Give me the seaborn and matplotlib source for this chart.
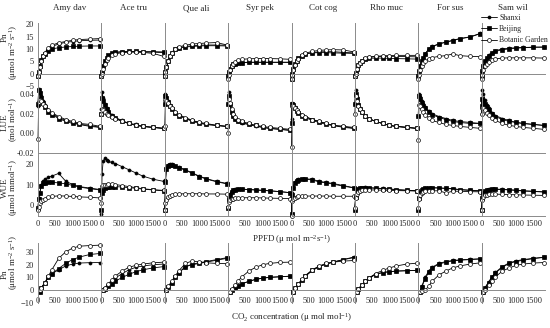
import numpy as np
import pandas as pd
import seaborn as sns
import matplotlib
matplotlib.use("Agg")
import matplotlib.pyplot as plt
from matplotlib.lines import Line2D

# species (column titles) and x values
species = ["Amy dav", "Ace tru", "Que ali", "Syr pek", "Cot cog", "Rho muc", "For sus", "Sam wil"]
sites = ["Shanxi", "Beijing", "Botanic Garden"]
ppfd = [0, 20, 50, 100, 150, 200, 300, 400, 600, 800, 1000, 1200, 1500, 1800]
co2 = [50, 100, 200, 300, 400, 600, 800, 1000, 1200, 1500, 1800]

# Row 1: Pn light response
pn_shanxi = [
    [-1, 0.5, 2.5, 5, 7, 8.3, 10, 11, 12, 12.7, 13, 13.3, 13.5, 13.6],
    [-1, 0.5, 2.5, 4.5, 6, 7, 8, 8.5, 8.8, 8.9, 8.9, 8.8, 8.7, 8.5],
    [-1, 0.5, 2.5, 5, 7, 8.3, 9.8, 10.5, 11, 11.3, 11.5, 11.6, 11.6, 11.5],
    [-1, 0.5, 2, 3, 3.7, 4, 4.3, 4.5, 4.6, 4.6, 4.6, 4.6, 4.6, 4.6],
    [-2, -0.5, 1.5, 3.5, 5, 6, 7.3, 8, 8.5, 8.8, 8.9, 8.9, 8.6, 8.4],
    [-1, 0, 2, 3.5, 4.5, 5.3, 6.2, 6.6, 6.9, 7, 7, 7, 6.9, 6.8],
    [-1, 1, 3, 5, 6.5, 8, 10, 11, 12.1, 12.8, 13.5, 14.2, 14.9, 16.3],
    [-1, 1, 3, 5, 6.5, 7.5, 8.5, 9.3, 10, 10.3, 10.5, 10.6, 10.7, 10.7],
]
pn_beijing = [
    [-1, 0.8, 3, 5.5, 7, 8, 9.3, 10, 10.5, 10.8, 11, 11.1, 11.2, 11.2],
    [-1, 0.5, 3, 5, 6.5, 7.5, 8.3, 8.7, 8.9, 9, 9, 8.9, 8.9, 8.8],
    [-1, 0.5, 2.5, 5, 7, 8.3, 9.8, 10.4, 10.8, 11, 11.2, 11.3, 11.3, 11.2],
    [-1, 0.5, 2, 3.2, 3.8, 4.1, 4.4, 4.5, 4.6, 4.6, 4.6, 4.6, 4.6, 4.6],
    [-2, 0, 2, 4, 5.2, 6.2, 7.3, 8, 8.4, 8.5, 8.5, 8.4, 8.3, 8.2],
    [-1, 0.3, 2, 3.5, 4.5, 5.2, 5.9, 6.2, 6.3, 6.3, 6.2, 6.1, 6, 5.9],
    [-1, 1, 3, 5, 6.5, 8, 9.8, 10.8, 12, 12.7, 13.4, 14.1, 14.8, 16.2],
    [-1, 1, 3, 5, 6.3, 7.3, 8.3, 9, 9.7, 10, 10.3, 10.5, 10.7, 10.8],
]
pn_botanic = [
    [-1, 0.5, 2.5, 5, 7, 8.5, 10.5, 11.5, 12.5, 13, 13.5, 13.8, 14, 14.2],
    [-1, 0, 2, 4, 5.5, 6.5, 7.5, 8, 8.5, 8.7, 8.7, 8.6, 8.2, 7],
    [-1, 0.5, 2.5, 5, 7, 8.5, 10, 10.8, 11.5, 12, 12.2, 12.4, 12.6, 11.6],
    [-2, -0.5, 1.5, 3, 4, 4.8, 5.5, 5.8, 6, 6.1, 6.1, 6.1, 6, 5.8],
    [-2, -0.5, 1.5, 3.5, 5, 6, 7.5, 8.3, 9, 9.4, 9.6, 9.7, 9.6, 8.8],
    [-1, 0, 2, 3.5, 4.5, 5.3, 6.2, 6.7, 7, 7.2, 7.3, 7.4, 7.4, 7.4],
    [-2, -0.5, 1.5, 3, 4.3, 5, 6, 6.5, 7, 7.3, 8, 7.3, 7, 6.9],
    [-2, -0.5, 1.5, 3, 4, 4.8, 5.6, 6, 6.3, 6.4, 6.4, 6.4, 6.4, 6.3],
]

# Row 2: LUE
lue_shanxi = [
    [0.028, 0.045, 0.042, 0.038, 0.033, 0.029, 0.024, 0.02, 0.016, 0.013, 0.011, 0.009, 0.008, 0.006],
    [0.025, 0.042, 0.036, 0.03, 0.026, 0.023, 0.019, 0.016, 0.013, 0.01, 0.009, 0.007, 0.006, 0.005],
    [0.03, 0.04, 0.037, 0.033, 0.029, 0.026, 0.022, 0.019, 0.015, 0.013, 0.011, 0.009, 0.008, 0.007],
    [0.03, 0.042, 0.03, 0.022, 0.018, 0.015, 0.012, 0.01, 0.009, 0.007, 0.006, 0.005, 0.004, 0.003],
    [0.015, 0.031, 0.03, 0.027, 0.024, 0.022, 0.019, 0.017, 0.014, 0.012, 0.01, 0.008, 0.007, 0.005],
    [0.03, 0.044, 0.037, 0.03, 0.026, 0.022, 0.018, 0.015, 0.012, 0.01, 0.008, 0.007, 0.006, 0.005],
    [0.018, 0.04, 0.037, 0.033, 0.03, 0.027, 0.023, 0.02, 0.017, 0.015, 0.013, 0.012, 0.011, 0.01],
    [0.02, 0.044, 0.04, 0.034, 0.029, 0.026, 0.021, 0.018, 0.015, 0.013, 0.011, 0.01, 0.009, 0.008],
]
lue_beijing = [
    [0.03, 0.044, 0.041, 0.036, 0.031, 0.027, 0.022, 0.019, 0.015, 0.012, 0.01, 0.009, 0.007, 0.006],
    [0.02, 0.036, 0.033, 0.029, 0.025, 0.022, 0.018, 0.016, 0.012, 0.01, 0.008, 0.007, 0.006, 0.005],
    [0.03, 0.038, 0.036, 0.032, 0.028, 0.025, 0.021, 0.018, 0.015, 0.012, 0.01, 0.009, 0.008, 0.007],
    [0.03, 0.038, 0.03, 0.022, 0.018, 0.015, 0.012, 0.011, 0.009, 0.008, 0.006, 0.005, 0.004, 0.003],
    [0.01, 0.03, 0.029, 0.026, 0.023, 0.021, 0.018, 0.016, 0.013, 0.011, 0.009, 0.008, 0.006, 0.005],
    [0.03, 0.04, 0.035, 0.029, 0.025, 0.022, 0.018, 0.015, 0.012, 0.01, 0.008, 0.007, 0.006, 0.005],
    [0.018, 0.038, 0.035, 0.031, 0.028, 0.026, 0.022, 0.019, 0.016, 0.014, 0.012, 0.011, 0.01, 0.01],
    [0.028, 0.035, 0.033, 0.03, 0.027, 0.024, 0.02, 0.017, 0.014, 0.012, 0.011, 0.01, 0.009, 0.008],
]
lue_botanic = [
    [-0.006, 0.032, 0.034, 0.033, 0.03, 0.028, 0.024, 0.021, 0.017, 0.014, 0.012, 0.01, 0.009, 0.007],
    [0.02, 0.025, 0.024, 0.022, 0.02, 0.019, 0.017, 0.015, 0.012, 0.01, 0.008, 0.007, 0.006, 0.005],
    [0.007, 0.034, 0.033, 0.031, 0.028, 0.026, 0.022, 0.019, 0.016, 0.013, 0.011, 0.01, 0.008, 0.007],
    [0.0, 0.035, 0.031, 0.025, 0.02, 0.017, 0.014, 0.012, 0.01, 0.008, 0.007, 0.006, 0.005, 0.004],
    [-0.014, 0.028, 0.028, 0.026, 0.024, 0.022, 0.019, 0.017, 0.014, 0.012, 0.01, 0.008, 0.007, 0.006],
    [0.02, 0.038, 0.033, 0.028, 0.025, 0.022, 0.018, 0.015, 0.012, 0.01, 0.008, 0.007, 0.006, 0.005],
    [-0.007, 0.029, 0.028, 0.025, 0.022, 0.019, 0.016, 0.013, 0.011, 0.009, 0.008, 0.007, 0.006, 0.005],
    [0.02, 0.026, 0.026, 0.024, 0.021, 0.019, 0.016, 0.013, 0.01, 0.008, 0.007, 0.006, 0.005, 0.004],
]

# Row 3: WUE
wue_shanxi = [
    [-1, 3.5, 6, 10, 11.5, 12.5, 13.5, 14, 15.3, 11.6, 10, 9, 8.3, 7.6],
    [-4, 15, 21, 22.5, 21.8, 21, 20.5, 20, 18.5, 17, 15.5, 14, 12.5, 11.5],
    [-2, 12, 18, 19.5, 19.8, 19.6, 19, 18.3, 17, 15.5, 14, 12.8, 11.5, 10.5],
    [-1, 3, 5.5, 7, 7.5, 7.7, 7.8, 7.8, 7.6, 7.4, 7.2, 7, 6.6, 6.1],
    [-4, 6, 9, 11, 12, 12.5, 12.7, 12.7, 12.5, 11.5, 11, 10.5, 9.5, 8.5],
    [-2, 4, 6.5, 7.8, 8.3, 8.5, 8.6, 8.5, 8.3, 8.1, 7.9, 7.6, 7.3, 7],
    [-2, 4, 6, 7.5, 8, 8.3, 8.5, 8.5, 8.4, 8.2, 8, 7.6, 7.3, 7],
    [-2, 4, 6, 7, 7.5, 7.7, 7.8, 7.8, 7.7, 7.5, 7.3, 7, 6.8, 6.5],
]
wue_beijing = [
    [-1, 3, 6, 9.5, 10.5, 10.8, 11, 11, 10.8, 10.3, 9.6, 8.8, 8, 7.4],
    [-2, 6, 7.5, 8.5, 8.8, 9, 9, 9, 8.8, 8.5, 8.2, 7.8, 7.4, 7],
    [-2, 11, 17.5, 19, 19.5, 19.3, 18.8, 18, 16.8, 15.3, 13.8, 12.6, 11.3, 10.3],
    [-1, 3, 5, 6.5, 7.2, 7.5, 7.7, 7.7, 7.6, 7.4, 7.2, 7, 6.6, 6.1],
    [-4, 5, 8.5, 10.5, 11.5, 12.2, 12.5, 12.5, 12.2, 11.2, 10.8, 10.2, 9.2, 8.4],
    [-2, 4, 6.5, 7.8, 8.2, 8.4, 8.5, 8.4, 8.2, 8, 7.8, 7.5, 7.2, 7],
    [-2, 3.5, 5.8, 7.3, 7.9, 8.2, 8.4, 8.4, 8.3, 8.1, 7.9, 7.5, 7.2, 6.9],
    [-2, 3.8, 5.8, 6.9, 7.4, 7.6, 7.7, 7.7, 7.6, 7.4, 7.2, 6.9, 6.7, 6.4],
]
wue_botanic = [
    [-2, -0.5, 1, 2, 2.8, 3.3, 4, 4.3, 4.6, 4.5, 4.3, 4.1, 3.9, 3.6],
    [1, 9.5, 10, 10, 10, 10.2, 10.4, 10, 9.5, 9, 8.5, 8, 7.5, 7.2],
    [-2, 1, 2.5, 4, 4.6, 5, 5.3, 5.5, 5.6, 5.6, 5.6, 5.5, 5.5, 5.4],
    [-0.5, 1.5, 2.5, 3, 3.3, 3.5, 3.7, 3.7, 3.7, 3.7, 3.6, 3.5, 3.4, 3.3],
    [-5, 2, 3, 3.8, 4.1, 4.3, 4.4, 4.5, 4.5, 4.5, 4.5, 4.4, 4.4, 4.4],
    [-1, 3.5, 5.5, 6.5, 7, 7.2, 7.3, 7.4, 7.4, 7.3, 7.2, 7.1, 7, 6.9],
    [-1, 3, 5, 6, 6.5, 6.8, 7, 7, 7, 6, 6.8, 6.8, 6.6, 6.5],
    [-2, 2.5, 4, 4.8, 5.1, 5.3, 5.4, 5.4, 5.3, 5.2, 5.1, 5, 4.9, 4.8],
]

# Row 4: Pn CO2 response
aci_shanxi = [
    [-1, 2, 6, 10, 13, 16, 19, 20.5, 21.3, 21.6, 21.7],
    [0, 1.5, 4, 7, 9.5, 13, 16, 18, 19, 20, 20.5],
    [0, 2.5, 6, 10, 13.5, 18.5, 20.5, 21.5, 22.5, 24, 25.5],
    [-1, 0, 2, 3.5, 5, 7, 8.5, 9.5, 10, 10.5, 11],
    [-1, 1.5, 5, 8, 11, 15.5, 18.5, 20.5, 22, 24, 26],
    [-1, 1, 4, 7, 9.5, 12.5, 14, 14.5, 15, 15.3, 15.5],
    [-1.5, 3, 10, 15, 18, 21, 22.5, 23.3, 23.8, 24.3, 24.6],
    [-1, 2, 6.5, 10.5, 14, 18.5, 21.5, 23, 24, 25, 25.9],
]
aci_beijing = [
    [-1, 2, 6, 10, 13, 17, 21, 24, 26, 28, 28.8],
    [0, 1, 3, 5, 7, 10, 12.5, 14.5, 16, 17.5, 18.5],
    [0, 2.5, 6, 10, 13.5, 18.5, 20, 21, 22, 23.5, 25],
    [-1, 0, 2, 3.5, 5, 7, 8.5, 9.5, 10.2, 10.6, 11],
    [-1, 1.5, 5, 8, 11, 15.5, 18.5, 20.5, 22, 24, 25.5],
    [-1, 1, 4, 7, 9.3, 12.3, 13.8, 14.5, 15, 15.3, 15.5],
    [-1.5, 2.5, 9, 14, 17.5, 20.5, 22, 23, 23.5, 24, 24.5],
    [-1, 2, 6, 10, 13.5, 18, 21, 22.5, 23.5, 24.8, 25.7],
]
aci_botanic = [
    [0, 2, 6, 11, 16, 25, 30, 33, 34.5, 35, 35.3],
    [0, 2, 5, 8, 11, 15, 18, 19.5, 20.5, 21.5, 22],
    [0, 3, 7, 11, 15, 21, 23, 22, 21.5, 21, 20.8],
    [-1, 1, 4, 7.5, 10.5, 15, 18, 20, 21, 21.8, 22],
    [-1, 1.5, 5, 8.5, 11.5, 16, 19, 21, 22, 22.8, 23.3],
    [-1, 1, 4, 7, 9.5, 13, 15.5, 17.5, 19, 20.5, 21.2],
    [-1, -0.5, 0, 3, 7, 12, 15, 17.5, 19, 20.5, 21.5],
    [-1, 0.5, 4, 7.5, 10.5, 15, 17.5, 19.5, 20.5, 21.3, 21.7],
]

rows = [
    (ppfd, [pn_shanxi, pn_beijing, pn_botanic]),
    (ppfd, [lue_shanxi, lue_beijing, lue_botanic]),
    (ppfd, [wue_shanxi, wue_beijing, wue_botanic]),
    (co2, [aci_shanxi, aci_beijing, aci_botanic]),
]

sns.set_style("white")
plt.rcParams["font.family"] = ["Liberation Serif", "DejaVu Serif"]
plt.rcParams["mathtext.fontset"] = "custom"
plt.rcParams["mathtext.rm"] = "Liberation Serif"
plt.rcParams["mathtext.default"] = "regular"

W, H = 550, 328
fig = plt.figure(figsize=(5.5, 3.28), dpi=100)

def px_axes(x0, y0, x1, y1):
    return fig.add_axes([x0 / W, 1 - y1 / H, (x1 - x0) / W, (y1 - y0) / H])

col_w = (545 - 38) / 8
row_px = [(23, 86), (86, 153), (153, 216), (243, 303)]
ylims = [(-5, 20.5), (-0.02, 0.048), (-5, 25), (-10, 37)]
yticks = [[-5, 0, 5, 10, 15, 20], [-0.02, 0.0, 0.02, 0.04], [0, 10, 20], [-10, 0, 10, 20, 30]]
styles = [
    dict(marker="o", markersize=2.2, markerfacecolor="black"),
    dict(marker="s", markersize=2.2, markerfacecolor="black"),
    dict(marker="o", markersize=2.8, markerfacecolor="white"),
]
axis_grey = "#8a8a8a"
tick_fs = 6

for r, (xs, series) in enumerate(rows):
    for c in range(8):
        ax = px_axes(38 + c * col_w, row_px[r][0], 38 + (c + 1) * col_w, row_px[r][1])
        for s, site in enumerate(sites):
            df = pd.DataFrame({"x": xs, "y": series[s][c]})
            sns.lineplot(data=df, x="x", y="y", ax=ax, color="black", linewidth=0.6,
                         markeredgecolor="black", markeredgewidth=0.5, clip_on=False,
                         **styles[s])
        ax.set_xlim(0, 1835)
        ax.set_ylim(*ylims[r])
        ax.set_xlabel("")
        ax.set_ylabel("")
        ax.set_facecolor("none")
        for side in ["top", "right"]:
            ax.spines[side].set_visible(False)
        for side in ["left", "bottom"]:
            ax.spines[side].set_color(axis_grey)
            ax.spines[side].set_linewidth(0.7)
        if r in (0, 3):
            ax.spines["bottom"].set_position(("data", 0))
        ax.set_xticks([0, 500, 1000, 1500])
        ax.set_yticks(yticks[r])
        ax.tick_params(axis="both", labelsize=tick_fs, length=1.5, width=0.5, color=axis_grey, pad=1.2)
        if r == 3:
            ax.tick_params(axis="x", pad=3.5)
        if r in (0, 1):
            ax.tick_params(axis="x", labelbottom=False, length=0)
        if r == 1:
            ax.set_yticklabels(["-0.02", "0.00", "0.02", "0.04"])
        if c > 0:
            ax.tick_params(axis="y", labelleft=False, length=0)
        if r == 0:
            fig.text((38 + (c + 0.5) * col_w) / W, 1 - 8 / H, species[c],
                     ha="center", va="center", fontsize=6.5)

# y-axis labels
ylab = [
    ("Pn", 37, "(μmol m$^{-2}$ s$^{-1}$)", 52),
    ("LUE", 122, "(mol mol$^{-1}$)", 120),
    ("WUE", 188, "(μmol mmol$^{-1}$)", 188),
    ("Pn", 274, "(μmol m$^{-2}$ s$^{-1}$)", 262),
]
for name, yn, unit, yu in ylab:
    fig.text(4.5 / W, 1 - yn / H, name, rotation=90, ha="center", va="center", fontsize=6.5)
    fig.text(13.5 / W, 1 - yu / H, unit, rotation=90, ha="center", va="center", fontsize=6.5)

fig.text(292 / W, 1 - 240 / H, "PPFD (μ mol m$^{-2}$s$^{-1}$)", ha="center", va="center", fontsize=6.5)
fig.text(292 / W, 1 - 318 / H, "CO$_2$ concentration (μ mol mol$^{-1}$)", ha="center", va="center", fontsize=6.5)

handles = [Line2D([], [], color="black", linewidth=0.6, markeredgecolor="black",
                  markeredgewidth=0.5, **styles[s]) for s in range(3)]
fig.legend(handles, sites, loc="upper left", bbox_to_anchor=(481 / W, 1 - 14 / H),
           frameon=False, fontsize=5.6, handlelength=2.0, handletextpad=0.35,
           labelspacing=0.4, borderaxespad=0, borderpad=0)

fig.savefig("out.png", dpi=100)
